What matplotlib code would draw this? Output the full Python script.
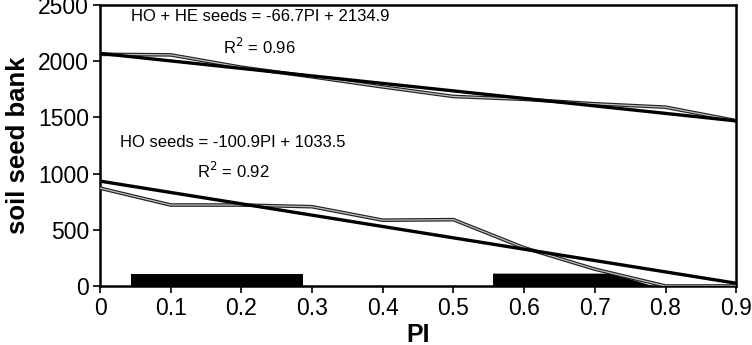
import matplotlib
matplotlib.use("Agg")
import matplotlib.pyplot as plt
import matplotlib.patheffects as pe
import numpy as np

plt.rcParams['font.family'] = ['Liberation Sans', 'DejaVu Sans']

# Data
pi_x = [0.0, 0.1, 0.2, 0.3, 0.4, 0.5, 0.6, 0.7, 0.8, 0.9]
ho_he_obs = [2060, 2055, 1945, 1860, 1770, 1685, 1660, 1620, 1590, 1470]
ho_obs = [870, 720, 720, 705, 585, 590, 340, 150, 0, 0]

# Regression coefficients (PI index = 10*x + 1)
ho_he_slope, ho_he_icpt = -66.7, 2134.9
ho_slope, ho_icpt = -100.9, 1033.5

# Black bars at the bottom (x-extents and height)
bar1_x = [0.044, 0.287]
bar2_x = [0.556, 0.724, 0.782]
bar_h = 110

fig = plt.figure(figsize=(7.52, 3.45), dpi=100)
ax = fig.add_axes([0.133, 0.171, 0.846, 0.815])

x = np.array(pi_x)
idx = 10 * x + 1
reg_hh = ho_he_icpt + ho_he_slope * idx
reg_ho = ho_icpt + ho_slope * idx

# bars
ax.fill([bar1_x[0], bar1_x[0], bar1_x[1], bar1_x[1]], [0, bar_h, bar_h, 0],
        color='black', lw=0, zorder=2)
ax.fill([bar2_x[0], bar2_x[0], bar2_x[1], bar2_x[2]], [0, bar_h, bar_h, 0],
        color='black', lw=0, zorder=2)

hollow = [pe.Stroke(linewidth=2.6, foreground='#222222'), pe.Normal()]
ax.plot(x, ho_he_obs, color='#bdbdbd', lw=0.9, path_effects=hollow, zorder=3)
ax.plot(x, ho_obs, color='#bdbdbd', lw=0.9, path_effects=hollow, zorder=3)

ax.plot(x, reg_hh, color='black', lw=2.4, zorder=4)
ax.plot(x, reg_ho, color='black', lw=2.4, zorder=4)

ax.text(0.226, 2400, 'HO + HE seeds = -66.7PI + 2134.9', ha='center', va='center',
        fontsize=12)
ax.text(0.226, 2125, 'R$^2$ = 0.96', ha='center', va='center', fontsize=12)
ax.text(0.188, 1280, 'HO seeds = -100.9PI + 1033.5', ha='center', va='center',
        fontsize=12)
ax.text(0.188, 1020, 'R$^2$ = 0.92', ha='center', va='center', fontsize=12)

ax.set_xlim(0, 0.9)
ax.set_ylim(0, 2500)
ax.set_xticks(pi_x)
ax.set_xticklabels(['0', '0.1', '0.2', '0.3', '0.4', '0.5', '0.6', '0.7', '0.8', '0.9'])
ax.set_yticks([0, 500, 1000, 1500, 2000, 2500])
ax.tick_params(direction='out', length=5, width=1.2, labelsize=16.5, pad=3)
for s in ax.spines.values():
    s.set_linewidth(1.8)

ax.set_xlabel('PI', fontsize=18, fontweight='bold', labelpad=2)
ax.set_ylabel('soil seed bank', fontsize=18.5, fontweight='bold', labelpad=6)

fig.savefig('out.png', dpi=100)
